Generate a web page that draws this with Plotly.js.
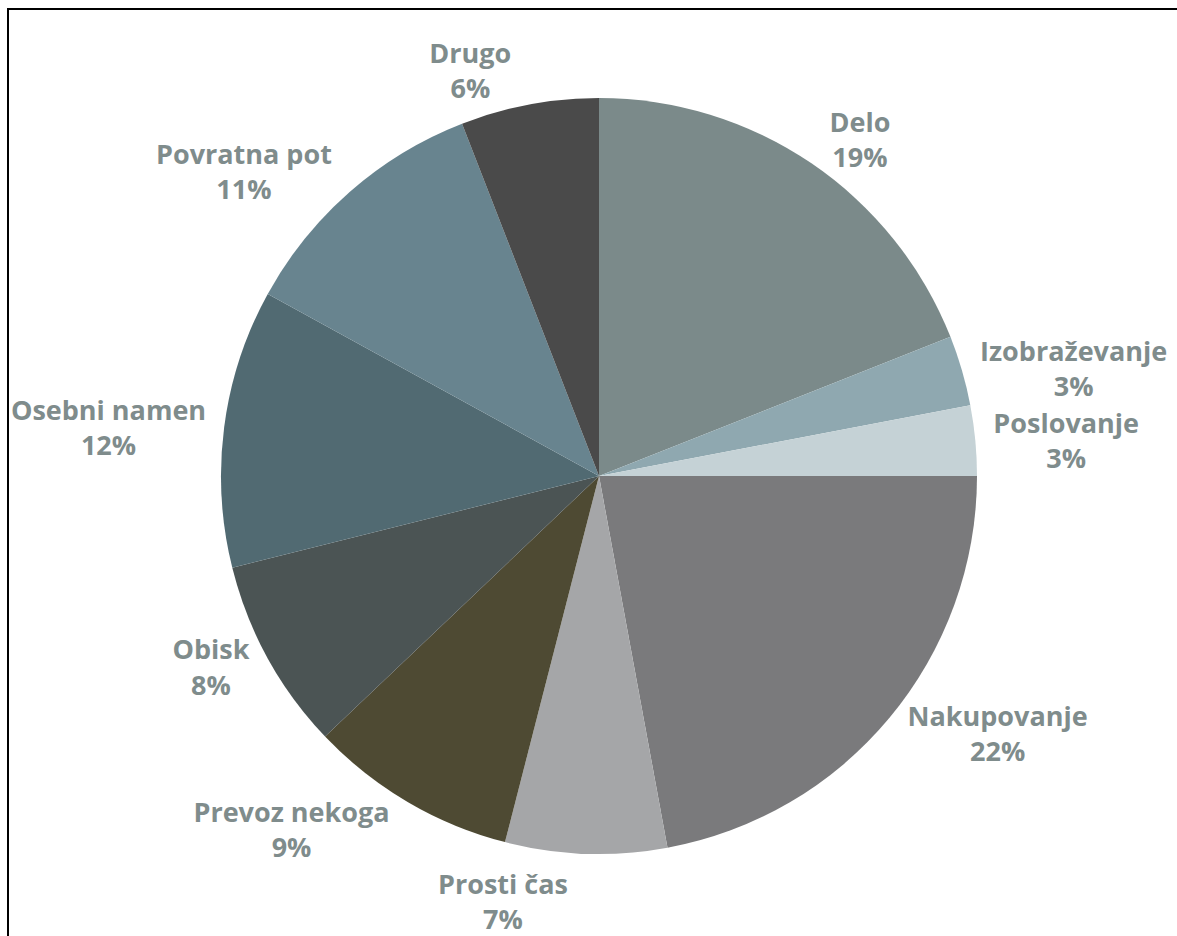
<!DOCTYPE html>
<html>
<head>
<meta charset="utf-8">
<script src="https://cdn.plot.ly/plotly-3.0.1.min.js"></script>
<style>
  html, body { margin: 0; padding: 0; background: #ffffff; overflow: hidden; }
  #frame { position: absolute; left: 7px; top: 8px; width: 1300px; height: 1100px;
           border-left: 2px solid #000; border-top: 2px solid #000; pointer-events: none; z-index: 10; }
  #chart { position: absolute; left: 0; top: 0; width: 1177px; height: 936px; }
  #chart path.textline { display: none; }
</style>
</head>
<body>
<div id="chart"></div>
<div id="frame"></div>
<script>
// Data (share of trips by purpose, %)
const categories = ['Delo', 'Izobraževanje', 'Poslovanje', 'Nakupovanje', 'Prosti čas',
                    'Prevoz nekoga', 'Obisk', 'Osebni namen', 'Povratna pot', 'Drugo'];
const shares = [19.0, 3.0, 3.0, 22.1, 6.9, 8.9, 8.2, 11.9, 11.1, 5.9];
const sliceColors = ['#7b8a8a', '#8fa8b0', '#c5d2d6', '#7a7a7c', '#a5a6a8',
                     '#4e4a33', '#4b5454', '#516a72', '#68848f', '#4a4a4a'];

const labelFont = { family: '"Open Sans", Lato, sans-serif', size: 27, color: '#7f8c8c', weight: 'bold' };

const trace = {
  type: 'pie',
  labels: categories,
  values: shares,
  sort: false,
  direction: 'clockwise',
  rotation: 0,
  marker: { colors: sliceColors, line: { width: 0 } },
  textposition: 'outside',
  texttemplate: '%{label}<br>%{percent:.0%}',
  textfont: labelFont,
  outsidetextfont: labelFont,
  automargin: false,
  showlegend: false,
  hoverinfo: 'label+percent'
};

const layout = {
  width: 1177,
  height: 936,
  margin: { l: 221, r: 200, t: 98, b: 82 },
  paper_bgcolor: '#ffffff',
  plot_bgcolor: '#ffffff',
  showlegend: false
};

Plotly.newPlot('chart', [trace], layout, { displayModeBar: false, staticPlot: true });
</script>
</body>
</html>
